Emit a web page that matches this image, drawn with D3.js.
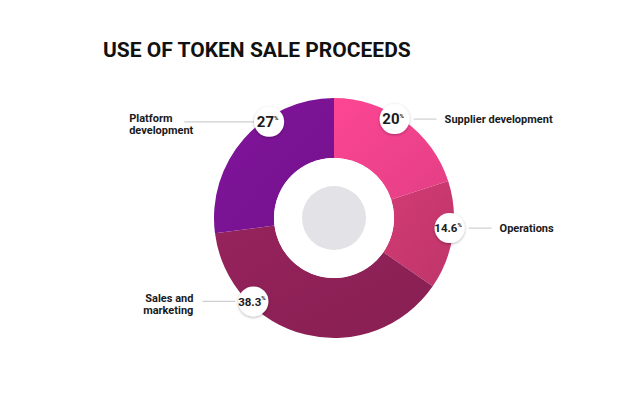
<!DOCTYPE html>
<html>
<head>
<meta charset="utf-8">
<script src="https://cdn.jsdelivr.net/npm/d3@7"></script>
<style>
  body { margin: 0; background: #fff; }
  svg { display: block; font-family: Roboto, "Open Sans", sans-serif; }
</style>
</head>
<body>
<svg width="640" height="400"></svg>
<script>
// data
var categories = ["Supplier development", "Operations", "Sales and marketing", "Platform development"];
var shares = [20, 14.6, 38.3, 27];
var shareLabels = ["20", "14.6", "38.3", "27"];
var labelLines = [["Supplier development"], ["Operations"], ["Sales and", "marketing"], ["Platform", "development"]];

// look
var colors = ["#f0428c", "#c8386f", "#8e2157", "#7a1394"];
var badgeAngle = [31.5, 95, 224, 326];   // degrees clockwise from 12 o'clock
var badgeSize = [15, 11.5, 11.5, 15];

var svg = d3.select("svg"),
    cx = 334, cy = 218,
    outerR = 120, innerR = 60;

svg.append("text")
  .attr("x", 103).attr("y", 57)
  .attr("font-size", 21).attr("font-weight", 700)
  .attr("fill", "#111")
  .text("USE OF TOKEN SALE PROCEEDS");

var defs = svg.append("defs");
var shadow = defs.append("filter").attr("id", "sh")
  .attr("x", "-50%").attr("y", "-50%").attr("width", "200%").attr("height", "200%");
shadow.append("feDropShadow").attr("dx", 0).attr("dy", 1).attr("stdDeviation", 1.6)
  .attr("flood-color", "#000").attr("flood-opacity", 0.3);

colors.forEach(function(c, i) {
  var g = defs.append("linearGradient").attr("id", "gr" + i)
    .attr("x1", "0%").attr("y1", "0%").attr("x2", "100%").attr("y2", "100%");
  g.append("stop").attr("offset", "0%").attr("stop-color", d3.color(c).brighter(0.15));
  g.append("stop").attr("offset", "100%").attr("stop-color", d3.color(c).darker(0.15));
});

var pie = d3.pie().sort(null).value(function(d) { return d; });
var arc = d3.arc().innerRadius(innerR).outerRadius(outerR);

var g = svg.append("g").attr("transform", "translate(" + cx + "," + cy + ")");

g.selectAll(".slice")
  .data(pie(shares))
  .enter().append("path")
  .attr("class", "slice")
  .attr("d", arc)
  .attr("fill", function(d, i) { return "url(#gr" + i + ")"; });

g.append("circle").attr("r", innerR).attr("fill", "#fff");
g.append("circle").attr("r", 32).attr("fill", "#e3e3e7");

// connector lines and labels
var rad = function(a) { return a * Math.PI / 180; };
var pos = badgeAngle.map(function(a) {
  return [cx + 116 * Math.sin(rad(a)), cy - 116 * Math.cos(rad(a))];
});

var lineSpec = [
  {x1: 19, x2: 42, tx: 50, anchor: "start"},
  {x1: 19, x2: 42, tx: 50, anchor: "start"},
  {x1: -51, x2: -18, tx: -60, anchor: "end"},
  {x1: -85, x2: -15, tx: -140, anchor: "start"}
];

categories.forEach(function(name, i) {
  var p = pos[i], s = lineSpec[i];
  svg.append("line")
    .attr("x1", p[0] + s.x1).attr("x2", p[0] + s.x2)
    .attr("y1", p[1]).attr("y2", p[1])
    .attr("stroke", "#cfcfcf").attr("stroke-width", 1.2);

  var lines = labelLines[i];
  var y0 = lines.length > 1 ? p[1] + 0.5 : p[1] + 4;
  lines.forEach(function(l, k) {
    svg.append("text")
      .attr("font-size", 11).attr("font-weight", 700).attr("fill", "#1a1a1a")
      .attr("text-anchor", s.anchor)
      .attr("x", p[0] + s.tx).attr("y", y0 + k * 12)
      .text(l);
  });
});

// badges
var badge = svg.selectAll(".badge")
  .data(shareLabels)
  .enter().append("g")
  .attr("class", "badge")
  .attr("transform", function(d, i) { return "translate(" + pos[i][0] + "," + pos[i][1] + ")"; });

badge.append("circle").attr("r", 15).attr("fill", "#fff").attr("filter", "url(#sh)");

badge.append("text")
  .attr("text-anchor", "middle")
  .attr("y", function(d, i) { return badgeSize[i] * 0.36; })
  .attr("x", -1.5)
  .attr("font-weight", 700).attr("fill", "#1a1a1a")
  .attr("font-size", function(d, i) { return badgeSize[i]; })
  .text(function(d) { return d; })
  .append("tspan")
  .attr("font-size", 6)
  .attr("dy", function(d, i) { return -badgeSize[i] * 0.45; })
  .text("%");
</script>
</body>
</html>
